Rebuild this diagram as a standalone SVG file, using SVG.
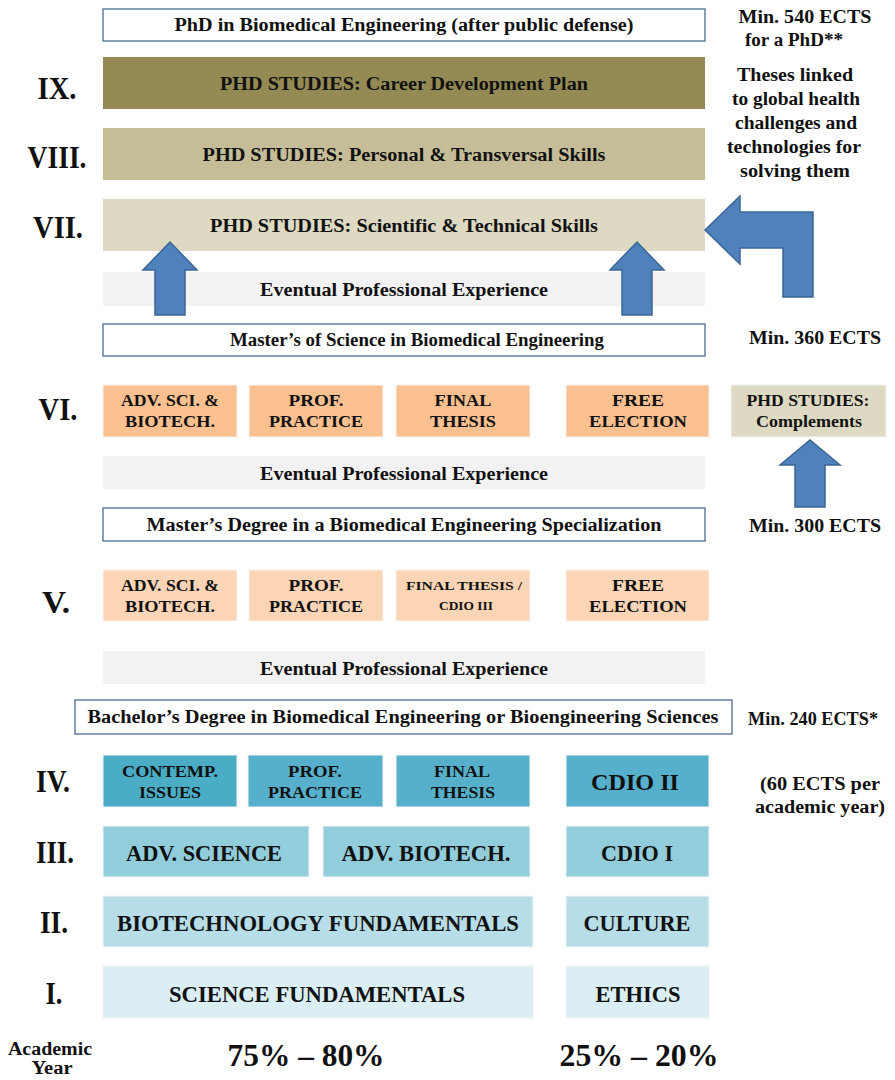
<svg xmlns="http://www.w3.org/2000/svg" width="895" height="1080" viewBox="0 0 895 1080">
<style>
text{font-family:"Liberation Serif","Times New Roman",serif;font-weight:bold;fill:#111;text-anchor:middle}
.t16{font-size:18px}
.t15{font-size:16.5px}
.t12{font-size:13.5px}
.t22{font-size:24px}
.rn{font-size:32px}
.pc{font-size:32px}
.wb{fill:#fff;stroke:#4a6a96;stroke-width:1.3}
.b{stroke:#f4f4f4;stroke-width:1}
.arr{fill:#4f81bd;stroke:#3b6595;stroke-width:1.5}
</style>
<rect width="895" height="1080" fill="#fff"/>

<g id="phd-degree"><rect class="wb" x="103" y="9" width="602" height="32"/><text class="t16" x="404" y="31" textLength="459" lengthAdjust="spacingAndGlyphs">PhD in Biomedical Engineering (after public defense)</text></g>
<g id="ects540"><text class="t16" x="805" y="23" textLength="133" lengthAdjust="spacingAndGlyphs">Min. 540 ECTS</text><text class="t16" x="794" y="46" textLength="98" lengthAdjust="spacingAndGlyphs">for a PhD**</text></g>
<g id="theses"><text class="t16" x="795" y="81" textLength="116" lengthAdjust="spacingAndGlyphs">Theses linked</text><text class="t16" x="796" y="105" textLength="128" lengthAdjust="spacingAndGlyphs">to global health</text><text class="t16" x="796" y="129" textLength="122" lengthAdjust="spacingAndGlyphs">challenges and</text><text class="t16" x="794" y="153" textLength="134" lengthAdjust="spacingAndGlyphs">technologies for</text><text class="t16" x="795" y="177" textLength="110" lengthAdjust="spacingAndGlyphs">solving them</text></g>

<g id="year9"><text class="rn" x="57" y="99" textLength="39" lengthAdjust="spacingAndGlyphs">IX.</text><rect x="103" y="57" width="602" height="52" fill="#948a54"/><text class="t16" x="404" y="90" textLength="368" lengthAdjust="spacingAndGlyphs">PHD STUDIES: Career Development Plan</text></g>
<g id="year8"><text class="rn" x="57" y="168" textLength="59" lengthAdjust="spacingAndGlyphs">VIII.</text><rect x="103" y="128" width="602" height="52" fill="#c4bd97"/><text class="t16" x="404" y="161" textLength="403" lengthAdjust="spacingAndGlyphs">PHD STUDIES: Personal &amp; Transversal Skills</text></g>
<g id="year7"><text class="rn" x="58" y="238" textLength="50" lengthAdjust="spacingAndGlyphs">VII.</text><rect x="103" y="199" width="602" height="52" fill="#ddd9c3"/><text class="t16" x="404" y="232" textLength="388" lengthAdjust="spacingAndGlyphs">PHD STUDIES: Scientific &amp; Technical Skills</text></g>

<g id="exp1"><rect x="103" y="272" width="602" height="34" fill="#f2f2f2"/><text class="t16" x="404" y="296" textLength="288" lengthAdjust="spacingAndGlyphs">Eventual Professional Experience</text></g>
<g id="msc"><rect class="wb" x="103" y="324" width="602" height="32"/><text class="t16" x="417" y="346" textLength="374" lengthAdjust="spacingAndGlyphs">Master’s of Science in Biomedical Engineering</text></g>
<g id="ects360"><text class="t16" x="815" y="344" textLength="132" lengthAdjust="spacingAndGlyphs">Min. 360 ECTS</text></g>

<g id="year6">
<text class="rn" x="58" y="420" textLength="39" lengthAdjust="spacingAndGlyphs">VI.</text>
<rect class="b" x="103" y="385" width="134" height="52" fill="#fac090"/><text class="t15" x="170" y="406" textLength="98" lengthAdjust="spacingAndGlyphs">ADV. SCI. &amp;</text><text class="t15" x="170" y="427" textLength="90" lengthAdjust="spacingAndGlyphs">BIOTECH.</text>
<rect class="b" x="249" y="385" width="134" height="52" fill="#fac090"/><text class="t15" x="316" y="406" textLength="55" lengthAdjust="spacingAndGlyphs">PROF.</text><text class="t15" x="316" y="427" textLength="94" lengthAdjust="spacingAndGlyphs">PRACTICE</text>
<rect class="b" x="396" y="385" width="134" height="52" fill="#fac090"/><text class="t15" x="463" y="406" textLength="57" lengthAdjust="spacingAndGlyphs">FINAL</text><text class="t15" x="463" y="427" textLength="66" lengthAdjust="spacingAndGlyphs">THESIS</text>
<rect class="b" x="566" y="385" width="143" height="52" fill="#fac090"/><text class="t15" x="638" y="406" textLength="52" lengthAdjust="spacingAndGlyphs">FREE</text><text class="t15" x="638" y="427" textLength="98" lengthAdjust="spacingAndGlyphs">ELECTION</text>
</g>
<g id="phd-complements"><rect class="b" x="731" y="385" width="155" height="52" fill="#ddd9c3"/><text class="t15" x="808" y="406" textLength="123" lengthAdjust="spacingAndGlyphs">PHD STUDIES:</text><text class="t15" x="809" y="427" textLength="106" lengthAdjust="spacingAndGlyphs">Complements</text></g>

<g id="exp2"><rect x="103" y="456" width="602" height="33" fill="#f2f2f2"/><text class="t16" x="404" y="480" textLength="288" lengthAdjust="spacingAndGlyphs">Eventual Professional Experience</text></g>
<g id="master-spec"><rect class="wb" x="103" y="508" width="602" height="33"/><text class="t16" x="404" y="531" textLength="515" lengthAdjust="spacingAndGlyphs">Master’s Degree in a Biomedical Engineering Specialization</text></g>
<g id="ects300"><text class="t16" x="815" y="532" textLength="132" lengthAdjust="spacingAndGlyphs">Min. 300 ECTS</text></g>

<g id="year5">
<text class="rn" x="56" y="613" textLength="28" lengthAdjust="spacingAndGlyphs">V.</text>
<rect class="b" x="103" y="570" width="134" height="51" fill="#fbd5b5"/><text class="t15" x="170" y="591" textLength="98" lengthAdjust="spacingAndGlyphs">ADV. SCI. &amp;</text><text class="t15" x="170" y="612" textLength="90" lengthAdjust="spacingAndGlyphs">BIOTECH.</text>
<rect class="b" x="249" y="570" width="134" height="51" fill="#fbd5b5"/><text class="t15" x="316" y="591" textLength="55" lengthAdjust="spacingAndGlyphs">PROF.</text><text class="t15" x="316" y="612" textLength="94" lengthAdjust="spacingAndGlyphs">PRACTICE</text>
<rect class="b" x="396" y="570" width="134" height="51" fill="#fbd5b5"/><text class="t12" x="464" y="590" textLength="116" lengthAdjust="spacingAndGlyphs">FINAL THESIS /</text><text class="t12" x="466" y="610" textLength="54" lengthAdjust="spacingAndGlyphs">CDIO III</text>
<rect class="b" x="566" y="570" width="143" height="51" fill="#fbd5b5"/><text class="t15" x="638" y="591" textLength="52" lengthAdjust="spacingAndGlyphs">FREE</text><text class="t15" x="638" y="612" textLength="98" lengthAdjust="spacingAndGlyphs">ELECTION</text>
</g>

<g id="exp3"><rect x="103" y="651" width="602" height="33" fill="#f2f2f2"/><text class="t16" x="404" y="675" textLength="288" lengthAdjust="spacingAndGlyphs">Eventual Professional Experience</text></g>
<g id="bachelor"><rect class="wb" x="75" y="700" width="657" height="34"/><text class="t16" x="403" y="723" textLength="631" lengthAdjust="spacingAndGlyphs">Bachelor’s Degree in Biomedical Engineering or  Bioengineering Sciences</text></g>
<g id="ects240"><text class="t16" x="813" y="725" textLength="130" lengthAdjust="spacingAndGlyphs">Min. 240 ECTS*</text><text class="t16" x="820" y="790" textLength="120" lengthAdjust="spacingAndGlyphs">(60 ECTS per</text><text class="t16" x="820" y="813" textLength="130" lengthAdjust="spacingAndGlyphs">academic year)</text></g>

<g id="year4">
<text class="rn" x="53" y="792" textLength="34" lengthAdjust="spacingAndGlyphs">IV.</text>
<rect class="b" x="103" y="755" width="134" height="52" fill="#4bacc6"/><text class="t15" x="170" y="777" textLength="96" lengthAdjust="spacingAndGlyphs">CONTEMP.</text><text class="t15" x="170" y="798" textLength="62" lengthAdjust="spacingAndGlyphs">ISSUES</text>
<rect class="b" x="248" y="755" width="135" height="52" fill="#57b0cb"/><text class="t15" x="315" y="777" textLength="54" lengthAdjust="spacingAndGlyphs">PROF.</text><text class="t15" x="315" y="798" textLength="94" lengthAdjust="spacingAndGlyphs">PRACTICE</text>
<rect class="b" x="396" y="755" width="134" height="52" fill="#57b0cb"/><text class="t15" x="462" y="777" textLength="56" lengthAdjust="spacingAndGlyphs">FINAL</text><text class="t15" x="463" y="798" textLength="64" lengthAdjust="spacingAndGlyphs">THESIS</text>
<rect class="b" x="566" y="755" width="143" height="52" fill="#57b0cb"/><text class="t22" x="635" y="790" textLength="88" lengthAdjust="spacingAndGlyphs">CDIO II</text>
</g>
<g id="year3">
<text class="rn" x="55" y="863" textLength="38" lengthAdjust="spacingAndGlyphs">III.</text>
<rect class="b" x="103" y="826" width="206" height="51" fill="#92cddc"/><text class="t22" x="204" y="861" textLength="156" lengthAdjust="spacingAndGlyphs">ADV. SCIENCE</text>
<rect class="b" x="323" y="826" width="207" height="51" fill="#92cddc"/><text class="t22" x="426" y="861" textLength="169" lengthAdjust="spacingAndGlyphs">ADV. BIOTECH.</text>
<rect class="b" x="566" y="826" width="143" height="51" fill="#92cddc"/><text class="t22" x="637" y="861" textLength="72" lengthAdjust="spacingAndGlyphs">CDIO I</text>
</g>
<g id="year2">
<text class="rn" x="54" y="933" textLength="28" lengthAdjust="spacingAndGlyphs">II.</text>
<rect class="b" x="103" y="896" width="430" height="51" fill="#b7dee8"/><text class="t22" x="318" y="931" textLength="402" lengthAdjust="spacingAndGlyphs">BIOTECHNOLOGY FUNDAMENTALS</text>
<rect class="b" x="566" y="896" width="143" height="51" fill="#b7dee8"/><text class="t22" x="637" y="931" textLength="107" lengthAdjust="spacingAndGlyphs">CULTURE</text>
</g>
<g id="year1">
<text class="rn" x="54" y="1004" textLength="17" lengthAdjust="spacingAndGlyphs">I.</text>
<rect class="b" x="103" y="966" width="430" height="52" fill="#daeef3"/><text class="t22" x="317" y="1002" textLength="296" lengthAdjust="spacingAndGlyphs">SCIENCE FUNDAMENTALS</text>
<rect class="b" x="566" y="966" width="143" height="52" fill="#daeef3"/><text class="t22" x="638" y="1002" textLength="85" lengthAdjust="spacingAndGlyphs">ETHICS</text>
</g>

<g id="footer">
<text class="t16" x="50" y="1055" textLength="84" lengthAdjust="spacingAndGlyphs">Academic</text><text class="t16" x="52" y="1074" textLength="41" lengthAdjust="spacingAndGlyphs">Year</text>
<text class="pc" x="306" y="1066" textLength="157" lengthAdjust="spacingAndGlyphs">75% –  80%</text>
<text class="pc" x="639" y="1066" textLength="159" lengthAdjust="spacingAndGlyphs">25% – 20%</text>
</g>

<g id="connectors">
<polygon class="arr" points="155,315 155,270 143,270 170,242 197,270 185,270 185,315"/>
<polygon class="arr" points="622,315 622,270 610,270 637,242 664,270 652,270 652,315"/>
<polygon class="arr" points="783,297 783,248 740,248 740,264 705,230 740,196 740,212 813,212 813,297"/>
<polygon class="arr" points="795,507 795,465 780,465 810,440 840,465 825,465 825,507"/>
</g>
</svg>
